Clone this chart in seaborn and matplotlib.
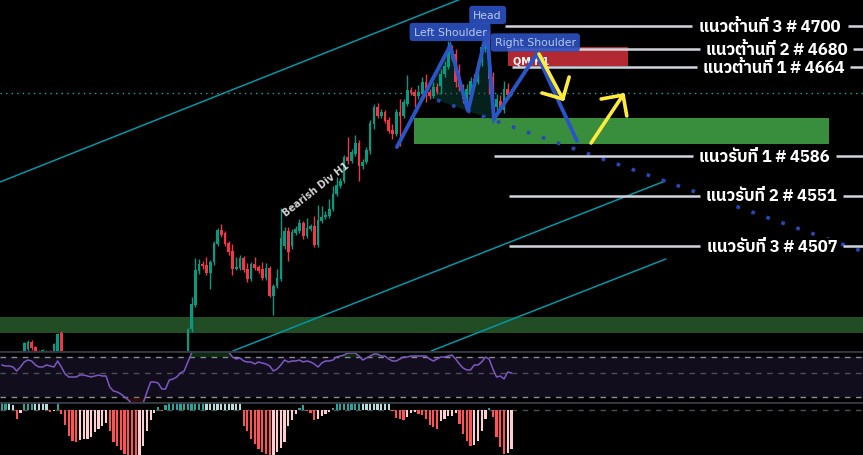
import numpy as np
import matplotlib
matplotlib.use("Agg")
import matplotlib.pyplot as plt
import seaborn as sns
from matplotlib import font_manager
from matplotlib.ft2font import FT2Font

sns.set_theme(style="dark")

# ---------------- fonts (Thai support) ----------------
def find_thai_font():
    names = []
    for fe in font_manager.fontManager.ttflist:
        try:
            if ord("น") in FT2Font(fe.fname).get_charmap():
                names.append(fe.name)
        except Exception:
            pass
    names = sorted(set(names), key=lambda n: (0 if "Thai" in n else 1, n))
    return names[0] if names else "DejaVu Sans"

THAI = find_thai_font()
plt.rcParams["font.family"] = [THAI, "DejaVu Sans"]

# ---------------- data ----------------
GREEN, RED = "#089981", "#f23645"

left_start = 6
left_open = [4414, 4417, 4423, 4418.5, 4415, 4415, 4414, 4415, 4414, 4415, 4431]
left_high = [4423, 4425, 4425, 4419.5, 4416, 4416.5, 4415.5, 4416, 4422, 4431, 4432.5]
left_low = [4412, 4415, 4416, 4412, 4410, 4414, 4413, 4412, 4412, 4413, 4412]
left_close = [4422, 4423, 4418, 4414, 4412, 4415.5, 4414.5, 4413, 4421, 4430, 4414]

main_start = 50
main_open = [4403.6, 4434, 4455, 4485, 4491, 4490.4, 4483.4, 4493, 4508.8, 4521.1,
             4518.5, 4509.7, 4502.4, 4486.9, 4487.8, 4496.6, 4486.9, 4478.1, 4491.3, 4488.7,
             4486.9, 4479, 4487.8, 4463.2, 4472, 4478.1, 4507, 4520.2, 4507, 4518.5,
             4520.2, 4527.3, 4515.9, 4522, 4524.6, 4508, 4529, 4532.5, 4533.4, 4539.5,
             4552.7, 4559.7, 4564.1, 4585.1, 4581.6, 4587.8, 4597.4, 4577.2, 4580.7, 4590.4,
             4614.1, 4629, 4621.1, 4624.6, 4617.6, 4608.8, 4605.3, 4624.6, 4621.1, 4631.6,
             4643.9, 4642.1, 4638.6, 4640.4, 4650.9, 4642.1, 4638.6, 4646.5, 4647.4, 4657.9,
             4664, 4679.8, 4675.5, 4653.5, 4646.5, 4636, 4639.5, 4653.5, 4650.9, 4668.4,
             4679.8, 4693, 4655.3, 4629, 4634.2, 4626.4, 4644.8, 4639.5]
main_high = [4435, 4462, 4496.5, 4495.7, 4493.5, 4497.4, 4494.8, 4511.5, 4522.9, 4526.4,
             4520.2, 4511.5, 4508.8, 4497.4, 4499.2, 4498.3, 4492.2, 4493, 4497.4, 4490.4,
             4493, 4492.2, 4489.5, 4473.8, 4486.9, 4540.4, 4523.7, 4523.7, 4522, 4524.6,
             4530.8, 4529, 4531.6, 4526.4, 4533.4, 4543, 4542.2, 4537.8, 4548.3, 4559.7,
             4567.6, 4566.7, 4586.9, 4602.7, 4592.2, 4604.4, 4600, 4583.4, 4593.9, 4617.6,
             4631.6, 4632.5, 4627.2, 4626.4, 4620.2, 4614.1, 4627.2, 4636, 4636, 4657,
             4646.5, 4644.8, 4648.3, 4655.3, 4657.9, 4644.8, 4650.9, 4650, 4662.3, 4669.3,
             4686.9, 4683.3, 4679.8, 4666.7, 4649.2, 4649.2, 4655.3, 4657.9, 4669.3, 4686,
             4697.4, 4696.5, 4659.7, 4640.4, 4639.5, 4651.8, 4650, 4644.8]
main_low = [4401, 4432, 4453.6, 4482.5, 4486.9, 4481.6, 4469.4, 4490.4, 4507, 4515,
            4507, 4499.2, 4481.6, 4486, 4486, 4484.3, 4475.5, 4476.4, 4486, 4483.4,
            4477.3, 4477.3, 4462.3, 4446.6, 4470.3, 4476.4, 4504.5, 4494, 4504.5, 4516.7,
            4518.5, 4513.2, 4514.1, 4520.2, 4506.2, 4506.2, 4527.3, 4530.8, 4531.6, 4537.8,
            4550.9, 4557.9, 4562.3, 4579, 4579.9, 4586, 4564.1, 4574.6, 4579, 4587.8,
            4609.7, 4619.3, 4619.3, 4615, 4606.2, 4600.9, 4603.5, 4594.8, 4619.3, 4629.9,
            4639.5, 4629, 4636, 4637.8, 4633.4, 4636, 4636.9, 4640.4, 4640.4, 4655.3,
            4662.3, 4669.3, 4646.5, 4643, 4632.5, 4633.4, 4636, 4646.5, 4649.2, 4664.9,
            4677, 4640.4, 4620.2, 4625.5, 4624.6, 4623.7, 4637.8, 4638.6]
main_close = [4434.3, 4456, 4486, 4491, 4489.5, 4483.4, 4493, 4509.7, 4521.1, 4516.7,
              4508.8, 4501.8, 4486.9, 4488.7, 4496.6, 4486, 4478.1, 4491.3, 4487.8, 4485.2,
              4479, 4487.8, 4463.2, 4472, 4479, 4514.1, 4520.2, 4501.8, 4519.4, 4522,
              4527.3, 4515.9, 4522.9, 4524.6, 4508, 4529.9, 4532.5, 4534.3, 4539.5, 4552.7,
              4560.6, 4564.1, 4585.1, 4581.6, 4589.5, 4597.4, 4577.2, 4580.7, 4591.3, 4615,
              4629, 4621.1, 4624.6, 4616.7, 4608, 4605.3, 4624.6, 4621.1, 4633.4, 4643.9,
              4641.3, 4638.6, 4642.1, 4650.9, 4641.3, 4638.6, 4646.5, 4642.1, 4657.9, 4664.9,
              4681.6, 4671.1, 4650.9, 4646.5, 4636, 4644.8, 4651.8, 4650, 4666.7, 4681.6,
              4693, 4653.5, 4629, 4636, 4626.4, 4644.8, 4639.5, 4641.3]

rsi = [62, 61, 61, 60, 56, 60, 65, 67, 66, 62,
       60, 60, 62, 61, 60, 66, 60, 53, 50, 50,
       50, 52, 52, 51, 50, 51, 52, 51, 51, 40,
       36, 35, 33, 30, 27, 23, 20, 20, 24, 35,
       45, 45, 44, 38, 38, 47, 48, 50, 54, 56,
       65, 74, 78, 80, 80, 80, 80, 79, 78, 78,
       77, 75, 70, 68, 69, 66, 65, 65, 63, 65,
       64, 63, 61, 56, 58, 62, 67, 65, 66, 66,
       67, 65, 66, 65, 63, 60, 64, 66, 66, 67,
       70, 71, 72, 74, 74, 74, 71, 67, 69, 71,
       73, 73, 71, 71, 68, 66, 66, 68, 70, 70,
       71, 71, 71, 71, 71, 68, 66, 68, 70, 70,
       71, 72, 68, 63, 59, 57, 57, 62, 62, 65,
       70, 68, 58, 50, 51, 48, 55, 54]
rsi_levels = [70, 54, 30]

macd_hist = [10, 12, 9, 5, -9, -3, 10, 12, 13, 12,
             9, 8, 6, -2, -1, 8, -4, -15, -26, -31,
             -32, -30, -29, -29, -27, -22, -19, -16, -13, -21,
             -32, -36, -40, -44, -46, -47, -48, -46, -36, -21,
             -10, -3, 3, -1, 5, 9, 10, 12, 14, 15,
             16, 17, 18, 18.5, 19, 17, 16, 15, 14, 13,
             12, 11, 10, 8, 7, -16, -21, -29, -34, -39,
             -42, -44, -45, -45, -42, -38, -32, -16, -10, -4,
             2, 5, -1, -3, -10, -9, -6, -4, -2, 2,
             8, 10, 12, 14, 15, 16, 17, 16, 15, 14,
             13, 12, 11, 10, 6, -1, -8, -9, -10, -7,
             -3, -2, -4, -5, -9, -15, -17, -19, -11, -9,
             -6, -6, -3, -14, -24, -31, -36, -35, -31, -21,
             -9, 2, -7, -27, -37, -44, -43, -39]

# drawings (bar index, price)
level_prices = [4700, 4680, 4664, 4586, 4551, 4507]
level_labels = ["แนวต้านที่ 3 # 4700", "แนวต้านที่ 2 # 4680", "แนวต้านที่ 1 # 4664",
                "แนวรับที่ 1 # 4586", "แนวรับที่ 2 # 4551", "แนวรับที่ 3 # 4507"]
level_x0 = [135.3, 135.8, 137.1, 132.3, 136.3, 136.3]
level_x1 = [185.5, 187.7, 186.9, 185.8, 187.7, 187.7]
level_tx = [206.5, 208.2, 207.6, 204.9, 207.0, 207.0]
level_x2 = [227.5, 228.8, 228.0, 224.2, 226.1, 226.1]

chan_upper = ([-0.5, 123.4], [4563.2, 4723.7])
chan_mid = ([62.1, 178.3], [4415.0, 4564.1])
chan_low = ([115.4, 178.5], [4415.0, 4495.7])

hs_x = [106.2, 120.5, 125.3, 130.4, 132.3, 143.8, 154.6]
hs_y = [4593.9, 4682.5, 4625.5, 4695.6, 4618.5, 4675.5, 4599.2]
neck_x = [117.0, 231.5]
neck_y = [4635.1, 4502.2]
ls_fill = ([114.3, 120.5, 125.3], [4638.3, 4682.5, 4625.5])
head_fill = ([125.3, 130.4, 132.3], [4625.5, 4695.6, 4617.6])

demand_zone = (110.8, 222.4, 4596.5, 4619.3)
lower_band = (4430.8, 4444.8)
qm_zone = (136.1, 168.3, 4665.0, 4681.6)
last_price = 4641.3

arrow1 = ([144.4, 150.8], [4675.5, 4636.0], [145.2, 152.5], [4641.3, 4655.3])
arrow2 = ([158.4, 167.0], [4597.4, 4639.5], [161.1, 168.0], [4636.0, 4621.1])

# ---------------- figure ----------------
W, H = 863, 456
fig = plt.figure(figsize=(W / 100, H / 100), dpi=100, facecolor="black")
ax = fig.add_axes([0, 104 / H, 1, 352 / H])
ax_rsi = fig.add_axes([0, 53 / H, 1, 51 / H])
ax_macd = fig.add_axes([0, 0, 1, 53 / H])
XL = (-0.5, 231.5)
for a in (ax, ax_rsi, ax_macd):
    a.set_facecolor("black")
    a.set_xlim(*XL)
    a.set_axis_off()

ax.set_ylim(4415.0, 4723.7)

# zones
ax.axhspan(*lower_band, color="#214c24", lw=0, zorder=1)
ax.fill_between([demand_zone[0], demand_zone[1]], demand_zone[2], demand_zone[3],
                color="#388e3c", lw=0, zorder=1)
ax.fill_between([qm_zone[0], qm_zone[1]], qm_zone[2], qm_zone[3],
                color="#b22833", lw=0, zorder=1)

# channels
for cx, cy in (chan_upper, chan_mid, chan_low):
    ax.plot(cx, cy, color="#0097a7", lw=1.1, zorder=2)

# last price dotted line
ax.axhline(last_price, color="#26a69a", lw=1, ls=(0, (1, 3)), zorder=2)

# candles
def draw_candles(start, o, h, l, c):
    o, h, l, c = map(np.asarray, (o, h, l, c))
    idx = np.arange(start, start + len(o))
    col = np.where(c >= o, GREEN, RED)
    ax.vlines(idx, l, h, colors=col, lw=1, zorder=3)
    body = c - o
    body = np.where(np.abs(body) < 1.0, np.where(body >= 0, 1.0, -1.0), body)
    ax.bar(idx, body, bottom=o, width=0.72, color=col, lw=0, zorder=3)

draw_candles(left_start, left_open, left_high, left_low, left_close)
draw_candles(main_start, main_open, main_high, main_low, main_close)

# H&S fills and lines
for fx, fy in (ls_fill, head_fill):
    ax.fill(fx, fy, color="#0b4a3e", alpha=0.45, lw=0, zorder=2.5)
ax.plot(neck_x, neck_y, color="#2848b8", lw=2.6, ls=(0, (1, 3.4)), zorder=4)

# level lines & labels
for p, lab, x0, x1, tx, x2 in zip(level_prices, level_labels, level_x0, level_x1, level_tx, level_x2):
    ax.plot([x0, x1], [p, p], color="#d1d4dc", lw=1.8, zorder=4, solid_capstyle="butt")
    ax.plot([x2, XL[1]], [p, p], color="#d1d4dc", lw=1.8, zorder=4, solid_capstyle="butt")
    ax.text(tx, p, lab, ha="center", va="center", color="white", fontsize=12,
            fontweight="bold", zorder=6,
            bbox=dict(boxstyle="square,pad=0.05", fc="black", ec="none"))

ax.text(142.2, 4670.2, "QM H1", ha="center", va="center", color="white",
        fontsize=7, fontweight="bold", family=["DejaVu Sans"], zorder=4)

ax.plot(hs_x, hs_y, color="#2a55c6", lw=2.8, zorder=5, solid_joinstyle="miter")

# yellow arrows
for sx, sy, hx, hy in (arrow1, arrow2):
    ax.plot(sx, sy, color="#ffeb3b", lw=2.6, zorder=5, solid_capstyle="round")
    tip = (sx[1], sy[1])
    for k in range(2):
        ax.plot([hx[k], tip[0]], [hy[k], tip[1]], color="#ffeb3b", lw=2.6, zorder=5,
                solid_capstyle="round")

# pattern labels
box = dict(boxstyle="round,pad=0.38,rounding_size=0.3", fc="#2b4fbd", ec="none", alpha=0.92)
for tx, ty, lab in ((120.5, 4694.8, "Left Shoulder"), (130.6, 4709.7, "Head"),
                    (143.4, 4685.6, "Right Shoulder")):
    ax.text(tx, ty, lab, ha="center", va="center", color="#b9c7ec", fontsize=7.8,
            family=["DejaVu Sans"], bbox=box, zorder=7)

ax.text(84.4, 4557.1, "Bearish Div H1", rotation=38, ha="center", va="center",
        color="#d5d5d5", fontsize=7, fontweight="bold", family=["DejaVu Sans"], zorder=6)

# ---------------- RSI pane ----------------
idx_all = np.arange(len(rsi))
ax_rsi.set_ylim(25, 76)
ax_rsi.axhspan(rsi_levels[2], rsi_levels[0], color="#110d1d", lw=0, zorder=0)
ax_rsi.axhline(rsi_levels[0], color="#8a8d96", lw=1, ls=(0, (4, 4)), zorder=1)
ax_rsi.axhline(rsi_levels[1], color="#4d4f57", lw=1, ls=(0, (4, 4)), zorder=1)
ax_rsi.axhline(rsi_levels[2], color="#8a8d96", lw=1, ls=(0, (4, 4)), zorder=1)
r = np.asarray(rsi, float)
ax_rsi.fill_between(idx_all, rsi_levels[0], r, where=r > rsi_levels[0],
                    interpolate=True, color="#1b5e20", alpha=0.45, lw=0, zorder=1)
ax_rsi.fill_between(idx_all, rsi_levels[2], r, where=r < rsi_levels[2],
                    interpolate=True, color="#5e1b1b", alpha=0.45, lw=0, zorder=1)
sns.lineplot(x=idx_all, y=r, ax=ax_rsi, color="#7e57c2", lw=1.1, zorder=2, legend=False)
ax_rsi.set_axis_off()
ax_rsi.axhline(76, color="#363a45", lw=2, zorder=3)

# ---------------- MACD pane ----------------
m = np.asarray(macd_hist, float)
prev = np.r_[m[0], m[:-1]]
mcol = np.where(m >= 0, np.where(m >= prev, "#26a69a", "#b2dfdb"),
                np.where(m < prev, "#ff5252", "#ffcdd2"))
ax_macd.set_ylim(-45, 8)
ax_macd.axhline(0, color="#4d4f57", lw=1, ls=(0, (4, 4)), zorder=1)
ax_macd.bar(idx_all, m, width=0.6, color=mcol, lw=0, zorder=2)
ax_macd.axhline(8, color="#363a45", lw=2, zorder=3)

fig.savefig("out.png", dpi=100, facecolor="black")
